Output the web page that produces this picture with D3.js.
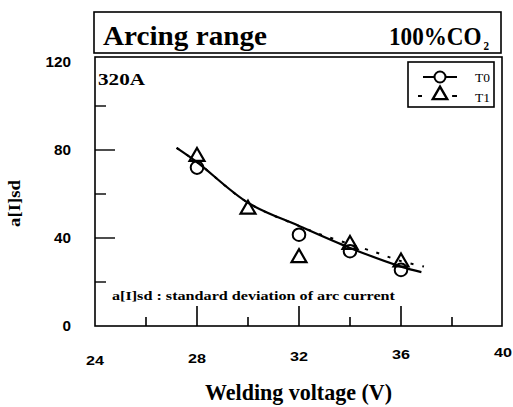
<!DOCTYPE html>
<html>
<head>
<meta charset="utf-8">
<script src="https://cdn.jsdelivr.net/npm/d3@7"></script>
<style>
  body { margin: 0; background: #fff; }
  svg { display: block; }
</style>
</head>
<body>
<div id="chart"></div>
<script>
// data
var voltT0 = [28, 32, 34, 36];
var sdT0 = [72, 41.5, 34, 25.5];
var voltT1 = [28, 30, 32, 34, 36];
var sdT1 = [77, 53, 31, 37, 29];

// fitted curves
var fitV0 = [27.2, 28, 30, 32, 34, 36, 36.8];
var fit0 = [81, 74.5, 56, 45.5, 35.5, 27, 24.5];
var fitV1 = [27.2, 28, 30, 32, 33, 35, 36, 36.9];
var fit1 = [81, 74.5, 56, 45.5, 41, 33.5, 29.5, 27];

var xTicks = [24, 28, 32, 36, 40];
var xMinor = [26, 30, 34, 38];
var yTicks = [0, 40, 80, 120];
var yMinor = [20, 60, 100];

var width = 513, height = 407;
var serif = "'Liberation Serif', 'Times New Roman', serif";
var sans = "'Liberation Sans', Arial, sans-serif";

var svg = d3.select('#chart').append('svg')
    .attr('width', width)
    .attr('height', height);

var x = d3.scaleLinear().domain([24, 40]).range([95, 503]);
var y = d3.scaleLinear().domain([0, 120]).range([326, 62]);

// the scanned picture is stretched sideways, so text gets a fixed length
function label(g, px, py, str, size, len, bold, fam) {
  return g.append('text')
      .attr('x', px).attr('y', py)
      .attr('textLength', len).attr('lengthAdjust', 'spacingAndGlyphs')
      .style('font-family', fam || serif)
      .style('font-weight', bold ? 'bold' : 'normal')
      .style('font-size', size + 'px')
      .text(str);
}

// title box
svg.append('rect')
    .attr('x', 94).attr('y', 12).attr('width', 407).attr('height', 41)
    .attr('fill', 'none').attr('stroke', '#000').attr('stroke-width', 1.6);
label(svg, 103, 45, 'Arcing range', 28, 164, true);
var gas = label(svg, 389, 45, '100%CO', 25, 100, true);
gas.append('tspan')
    .attr('dx', 2)
    .attr('dy', 5)
    .style('font-size', '12px')
    .text('2');

// plot box
svg.append('rect')
    .attr('x', 95).attr('y', 57).attr('width', 407).attr('height', 269)
    .attr('fill', 'none').attr('stroke', '#000').attr('stroke-width', 1.6);

// inward ticks
svg.selectAll('.xt').data(xTicks.slice(1, -1)).enter().append('line')
    .attr('x1', function(d){ return x(d); }).attr('x2', function(d){ return x(d); })
    .attr('y1', 326).attr('y2', 306)
    .attr('stroke', '#000').attr('stroke-width', 1.6);
svg.selectAll('.xm').data(xMinor).enter().append('line')
    .attr('x1', function(d){ return x(d); }).attr('x2', function(d){ return x(d); })
    .attr('y1', 326).attr('y2', 317)
    .attr('stroke', '#000').attr('stroke-width', 1.6);
svg.selectAll('.yt').data(yTicks.slice(1, -1)).enter().append('line')
    .attr('x1', 95).attr('x2', 115)
    .attr('y1', function(d){ return y(d); }).attr('y2', function(d){ return y(d); })
    .attr('stroke', '#000').attr('stroke-width', 1.4);
svg.selectAll('.ym').data(yMinor).enter().append('line')
    .attr('x1', 95).attr('x2', 106)
    .attr('y1', function(d){ return y(d); }).attr('y2', function(d){ return y(d); })
    .attr('stroke', '#000').attr('stroke-width', 1.4);

// tick labels
svg.selectAll('.xl').data(xTicks).enter().append('text')
    .attr('x', function(d){ return x(d); })
    .attr('y', function(d, i){ return 365 - i * 2; })
    .attr('text-anchor', 'middle')
    .attr('textLength', 18).attr('lengthAdjust', 'spacingAndGlyphs')
    .style('font-family', sans).style('font-weight', 'bold').style('font-size', '13px')
    .text(function(d){ return d; });
svg.selectAll('.yl').data(yTicks).enter().append('text')
    .attr('x', 71)
    .attr('y', function(d){ return y(d) + 5; })
    .attr('text-anchor', 'end')
    .attr('textLength', function(d){ return String(d).length * 8.5; })
    .attr('lengthAdjust', 'spacingAndGlyphs')
    .style('font-family', sans).style('font-weight', 'bold').style('font-size', '14px')
    .text(function(d){ return d; });

// axis titles
label(svg, 205, 400, 'Welding voltage (V)', 24, 187, true);
svg.append('text')
    .attr('transform', 'translate(20,227) rotate(-90)')
    .attr('textLength', 47).attr('lengthAdjust', 'spacingAndGlyphs')
    .style('font-family', serif).style('font-weight', 'bold').style('font-size', '17px')
    .text('a[I]sd');

label(svg, 98, 85, '320A', 17, 47, true);
label(svg, 112, 300, 'a[I]sd : standard deviation of arc current', 13, 283, true);

// curves
var line = d3.line()
    .x(function(d){ return x(d[0]); })
    .y(function(d){ return y(d[1]); })
    .curve(d3.curveCatmullRom);

svg.append('path')
    .datum(d3.zip(fitV1, fit1))
    .attr('d', line)
    .attr('fill', 'none').attr('stroke', '#000').attr('stroke-width', 2)
    .attr('stroke-dasharray', '3,9');
svg.append('path')
    .datum(d3.zip(fitV0, fit0))
    .attr('d', line)
    .attr('fill', 'none').attr('stroke', '#000').attr('stroke-width', 2.2);

// markers
var tri = d3.symbol().type(d3.symbolTriangle).size(97);
svg.selectAll('.c0').data(d3.zip(voltT0, sdT0)).enter().append('circle')
    .attr('cx', function(d){ return x(d[0]); })
    .attr('cy', function(d){ return y(d[1]); })
    .attr('r', 6.3)
    .attr('fill', 'none').attr('stroke', '#000').attr('stroke-width', 2);
svg.selectAll('.t1').data(d3.zip(voltT1, sdT1)).enter().append('path')
    .attr('transform', function(d){ return 'translate(' + x(d[0]) + ',' + y(d[1]) + ')'; })
    .attr('d', tri)
    .attr('fill', 'none').attr('stroke', '#000').attr('stroke-width', 2.2);

// legend
var lg = svg.append('g');
lg.append('rect')
    .attr('x', 408).attr('y', 62).attr('width', 86).attr('height', 45)
    .attr('fill', '#fff').attr('stroke', '#000').attr('stroke-width', 1.6);
lg.append('line').attr('x1', 423).attr('x2', 457).attr('y1', 77).attr('y2', 77)
    .attr('stroke', '#000').attr('stroke-width', 1.8);
lg.append('circle').attr('cx', 440).attr('cy', 77).attr('r', 5.5)
    .attr('fill', '#fff').attr('stroke', '#000').attr('stroke-width', 2);
lg.append('line').attr('x1', 418).attr('x2', 457).attr('y1', 96).attr('y2', 96)
    .attr('stroke', '#000').attr('stroke-width', 1.8).attr('stroke-dasharray', '4,31');
lg.append('line').attr('x1', 452).attr('x2', 457).attr('y1', 96).attr('y2', 96)
    .attr('stroke', '#000').attr('stroke-width', 1.8);
lg.append('path').attr('transform', 'translate(440,95)')
    .attr('d', d3.symbol().type(d3.symbolTriangle).size(90))
    .attr('fill', 'none').attr('stroke', '#000').attr('stroke-width', 2.4);
label(lg, 475, 82, 'T0', 13, 15, false);
label(lg, 475, 102, 'T1', 13, 15, false);
</script>
</body>
</html>
